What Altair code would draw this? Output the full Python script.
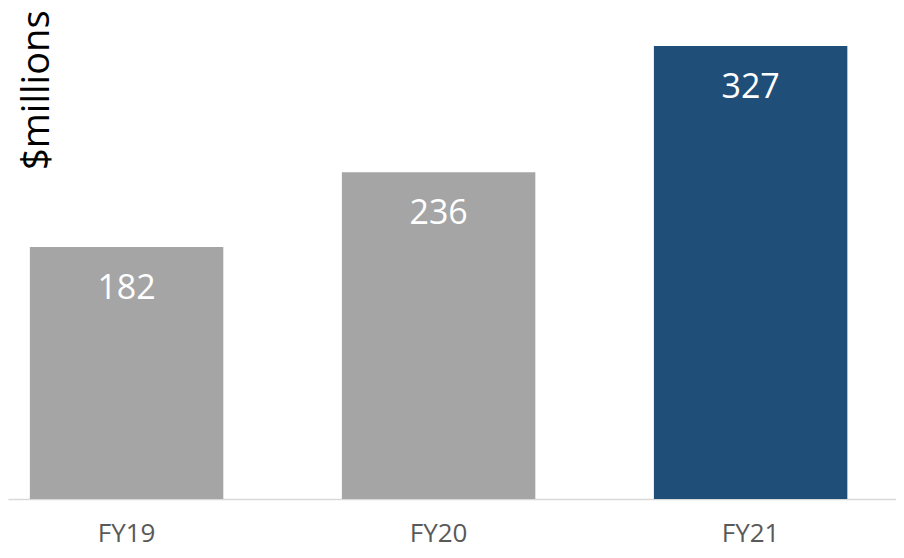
import altair as alt
import pandas as pd

years = ["FY19", "FY20", "FY21"]
values = [182, 236, 327]
colors = ["#A5A5A5", "#A5A5A5", "#1F4E79"]

df = pd.DataFrame({"year": years, "value": values, "color": colors})

x = alt.X("year:N", sort=years,
          scale=alt.Scale(paddingInner=0.38, paddingOuter=0.113, align=0.31),
          axis=alt.Axis(title=None, labelAngle=0, ticks=False, labelPadding=21,
                        labelFontSize=26, labelColor="#595959", labelFont="Open Sans",
                        domainColor="#D9D9D9", domainWidth=1.5, grid=False))
y = alt.Y("value:Q", scale=alt.Scale(domain=[0, 354.5], nice=False),
          axis=alt.Axis(title="$millions", labels=False, ticks=False, domain=False, grid=False,
                        titleAngle=-90, titleAlign="right", titleBaseline="alphabetic",
                        titleX=40, titleY=2, titleFontSize=38, titleFont="Open Sans",
                        titleFontWeight="normal", titleColor="#000000"))

bars = alt.Chart(df).mark_bar().encode(
    x=x, y=y, color=alt.Color("color:N", scale=None)
)
labels = alt.Chart(df).mark_text(
    color="white", fontSize=34, font="Open Sans", baseline="alphabetic", dy=52
).encode(x=alt.X("year:N", sort=years), y="value:Q", text="value:Q")

chart = (bars + labels).properties(
    width=888, height=491,
    padding={"top": 0, "left": 0, "right": 0, "bottom": 4}
).configure_view(stroke=None)
chart.save("out.html", embed_options={"renderer": "svg", "actions": False})
